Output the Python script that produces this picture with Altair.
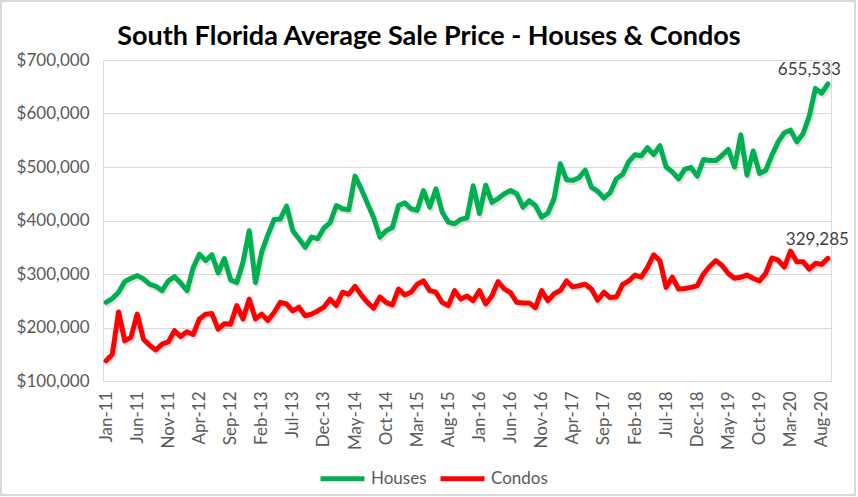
import altair as alt
import pandas as pd

# ---- data ($ thousands) ----
month_names = ["Jan", "Feb", "Mar", "Apr", "May", "Jun",
               "Jul", "Aug", "Sep", "Oct", "Nov", "Dec"]
months = [f"{m}-{y}" for y in range(11, 21) for m in month_names][:117]
tick_labels = months[::5]

houses_k = [
    247, 254, 266, 286, 292, 297, 291, 281, 277, 269, 287, 295, 283, 269, 312, 337, 325, 336, 302, 329,
    289, 284, 322, 381, 284, 341, 373, 402, 403, 427, 381, 366, 350, 369, 366, 386, 396, 428, 422,
    420, 483, 459, 432, 405, 369, 381, 387, 428, 433, 422, 419, 456, 425, 459, 416, 397, 394, 402, 405,
    465, 413, 466, 434, 441, 450, 456, 450, 425, 437, 428, 406, 414, 441, 506, 476, 475, 480, 494,
    462, 455, 442, 452, 478, 486, 510, 523, 521, 536, 523, 540, 500, 491, 478, 496, 499, 483, 514,
    512, 512, 522, 533, 500, 560, 485, 530, 488, 494, 522, 547, 564, 569, 547, 562, 595, 647, 638, 655.533,
]
condos_k = [
    138, 150, 229, 175, 182, 225, 178, 167, 158, 169, 173, 194, 183, 192, 187, 216, 225, 226, 197, 207,
    206, 241, 216, 253, 216, 225, 213, 228, 247, 244, 231, 238, 222, 225, 231, 238, 253, 241, 266,
    262, 277, 261, 247, 236, 257, 247, 242, 272, 261, 266, 281, 287, 269, 266, 247, 241, 269, 253, 259,
    250, 269, 244, 259, 286, 272, 265, 247, 246, 246, 237, 269, 250, 263, 269, 287, 276, 278, 281,
    272, 251, 266, 256, 257, 280, 287, 298, 294, 312, 336, 325, 275, 294, 272, 273, 275, 278, 300,
    314, 325, 316, 301, 292, 294, 298, 292, 287, 301, 330, 326, 313, 343, 323, 323, 309, 320, 318, 329.285,
]
series_names = ["Houses", "Condos"]
series_colors = ["#00B050", "#FF0000"]
y_ticks = [100000, 200000, 300000, 400000, 500000, 600000, 700000]
title_text = "South Florida Average Sale Price - Houses & Condos"

rows = []
for name, vals in zip(series_names, [houses_k, condos_k]):
    for m, v in zip(months, vals):
        rows.append({"month": m, "series": name, "value": round(v * 1000)})
df = pd.DataFrame(rows)
last = df[df["month"] == months[len(houses_k) - 1]]

FONT = "Lato"
GRAY = "#595959"

x_enc = alt.X("month:O", sort=months,
              scale=alt.Scale(type="point", padding=0.5),
              axis=alt.Axis(values=tick_labels, labelAngle=-90, title=None,
                            ticks=False, grid=False, domainColor="#d9d9d9",
                            domainWidth=1.2, labelPadding=10, labelFontSize=17,
                            labelColor=GRAY, labelFont=FONT))
y_enc = alt.Y("value:Q",
              scale=alt.Scale(domain=[100000, 700000], nice=False, zero=False),
              axis=alt.Axis(values=y_ticks, format="$,.0f", title=None,
                            ticks=False, domain=False, gridColor="#d9d9d9",
                            gridWidth=1.2, labelPadding=14, labelFontSize=17,
                            labelColor=GRAY, labelFont=FONT))

base = alt.Chart(df)

shadow = base.mark_line(strokeWidth=5, strokeCap="round", strokeJoin="round",
                        color="#000000", opacity=0.12, xOffset=1.5, yOffset=2.5).encode(
    x=x_enc, y=y_enc, detail="series:N")

lines = base.mark_line(strokeWidth=5, strokeCap="round", strokeJoin="round").encode(
    x=x_enc, y=y_enc,
    color=alt.Color("series:N", sort=series_names,
                    scale=alt.Scale(domain=series_names, range=series_colors),
                    legend=alt.Legend(title=None, orient="none", direction="horizontal",
                                      legendX=215, legendY=394, symbolType="stroke",
                                      symbolSize=1936, symbolStrokeWidth=5,
                                      labelFontSize=17, labelColor=GRAY, labelFont=FONT,
                                      labelOffset=4, columnPadding=3, padding=0)))

lab_h = alt.Chart(last[last["series"] == "Houses"]).mark_text(
    align="right", baseline="bottom", dx=13, dy=-5, fontSize=17, font=FONT, color="#404040").encode(
    x=x_enc, y=y_enc, text=alt.Text("value:Q", format=",.0f"))
lab_c = alt.Chart(last[last["series"] == "Condos"]).mark_text(
    align="right", baseline="bottom", dx=21, dy=-9, fontSize=17, font=FONT, color="#404040").encode(
    x=x_enc, y=y_enc, text=alt.Text("value:Q", format=",.0f"))

title = alt.Chart(pd.DataFrame({"t": [title_text]})).mark_text(
    fontSize=27, font=FONT, fontWeight="bold", color="#000000",
    align="center", baseline="middle").encode(
    text="t:N", x=alt.value(326), y=alt.value(-23))

border = alt.Chart(pd.DataFrame({"a": [0]})).mark_rect(
    fill=None, stroke="#d9d9d9", strokeWidth=2).encode(
    x=alt.value(-102), x2=alt.value(752), y=alt.value(-59), y2=alt.value(435))

chart = alt.layer(shadow, lines, lab_h, lab_c, title, border).properties(
    width=728, height=321,
    padding={"left": 103, "top": 60, "right": 27, "bottom": 116},
    autosize=alt.AutoSizeParams(type="none"),
).configure_view(stroke=None).configure(background="white")

chart.save("out.html", embed_options={"renderer": "svg", "actions": False})
